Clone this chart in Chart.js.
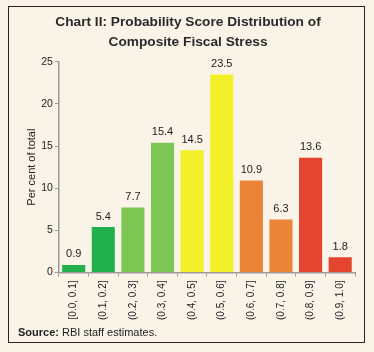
<!DOCTYPE html>
<html>
<head>
<meta charset="utf-8">
<script src="https://cdn.jsdelivr.net/npm/chart.js@4"></script>
<style>
  body { margin: 0; background: #FAF3E8; }
  #wrap { position: absolute; left: 0; top: 0; width: 374px; height: 352px; }
  #frame { position: absolute; left: 8px; top: 6px; width: 355px; height: 335px; border: 1.5px solid #2e2522; pointer-events: none; }
  #source { position: absolute; left: 18px; top: 326px; font: 11px "Liberation Sans", Arial, sans-serif; color: #222; }
</style>
</head>
<body>
<div id="wrap">
  <canvas id="canvas" width="374" height="352"></canvas>
  <div id="frame"></div>
  <div id="source"><b>Source:</b> RBI staff estimates.</div>
</div>
<script>
var categories = ["[0.0, 0.1]", "(0.1, 0.2]", "(0.2, 0.3]", "(0.3, 0.4]", "(0.4, 0.5]",
                  "(0.5, 0.6]", "(0.6, 0.7]", "(0.7, 0.8]", "(0.8, 0.9]", "(0.9, 1.0]"];
var shares = [0.9, 5.4, 7.7, 15.4, 14.5, 23.5, 10.9, 6.3, 13.6, 1.8];
var barColors = ["#21B04B", "#21B04B", "#7DC654", "#7DC654", "#F3F02A",
                 "#F3F02A", "#EA8439", "#EA8439", "#E3452E", "#E3452E"];
var yTicks = [0, 5, 10, 15, 20, 25];

var font = '"Liberation Sans", Arial, sans-serif';

var valueLabels = {
    id: 'valueLabels',
    afterDatasetsDraw: function(chart) {
        var ctx = chart.ctx;
        var meta = chart.getDatasetMeta(0);
        ctx.save();
        ctx.font = '11px ' + font;
        ctx.fillStyle = '#222';
        ctx.textAlign = 'center';
        ctx.textBaseline = 'bottom';
        meta.data.forEach(function(bar, i) {
            ctx.fillText(shares[i].toFixed(1), bar.x, bar.y - 5);
        });
        ctx.restore();
    }
};

var config = {
    type: 'bar',
    data: {
        labels: categories,
        datasets: [{
            data: shares,
            backgroundColor: barColors,
            barPercentage: 0.78,
            categoryPercentage: 1.0
        }]
    },
    options: {
        responsive: false,
        animation: false,
        layout: { padding: { left: 21, right: 19, top: 4, bottom: 28 } },
        plugins: {
            legend: { display: false },
            tooltip: { enabled: false },
            title: {
                display: true,
                text: ["Chart II: Probability Score Distribution of", "Composite Fiscal Stress"],
                color: '#2a2a2a',
                font: { family: font, size: 13.7, weight: 'bold', lineHeight: 1.45 },
                padding: { top: 8, bottom: 10 }
            }
        },
        scales: {
            x: {
                grid: { display: true, drawOnChartArea: false, offset: true, color: '#999', tickLength: 4 },
                border: { color: '#999', width: 1.5 },
                ticks: {
                    color: '#222',
                    font: { family: font, size: 10 },
                    minRotation: 90, maxRotation: 90,
                    padding: 4
                }
            },
            y: {
                min: 0, max: 25,
                afterBuildTicks: function(axis) {
                    axis.ticks = yTicks.map(function(v) { return { value: v }; });
                },
                grid: { display: true, drawOnChartArea: false, color: '#999', tickLength: 4 },
                border: { color: '#999', width: 1.5 },
                ticks: { color: '#222', font: { family: font, size: 10.5 }, padding: 2 },
                title: {
                    display: true,
                    text: 'Per cent of total',
                    color: '#222',
                    font: { family: font, size: 11 },
                    padding: { bottom: 1 }
                }
            }
        }
    },
    plugins: [valueLabels]
};

window.onload = function() {
    window.myBar = new Chart(document.getElementById("canvas"), config);
};
</script>
</body>
</html>
